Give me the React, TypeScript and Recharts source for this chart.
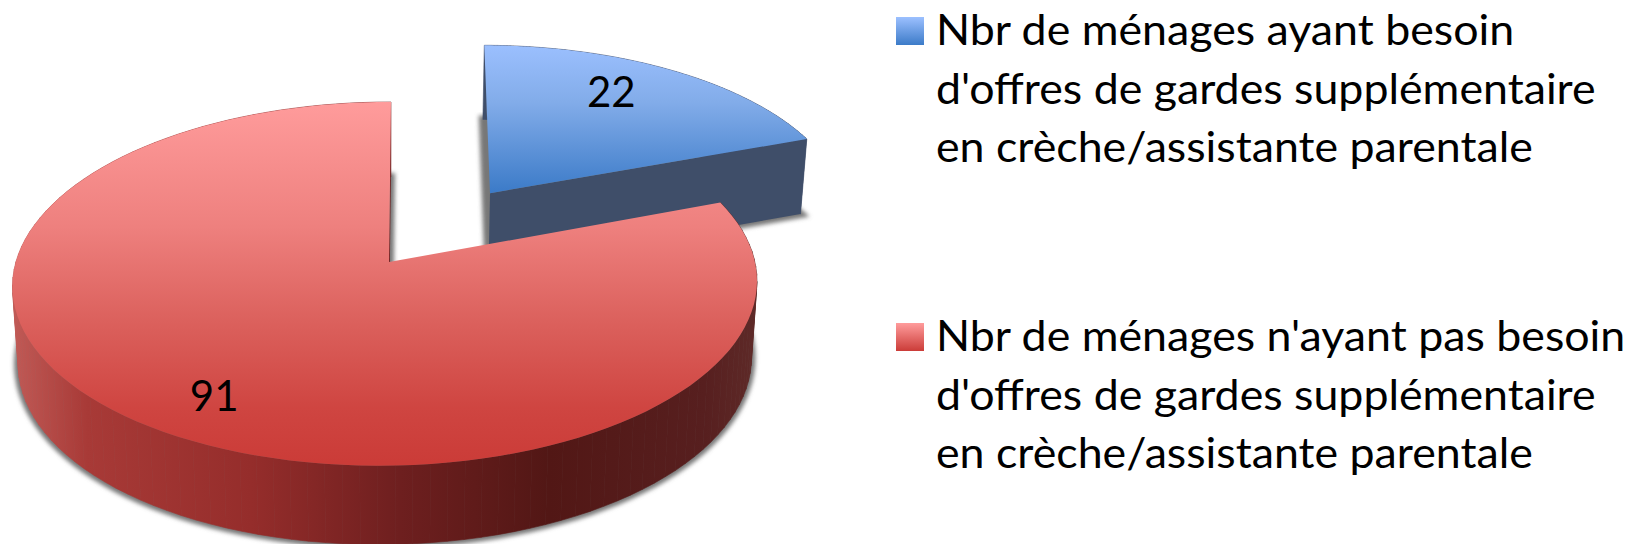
import { PieChart, Pie, Legend } from "recharts";

const CATEGORIES = [
  "Nbr de ménages ayant besoin\nd'offres de gardes supplémentaire\nen crèche/assistante parentale",
  "Nbr de ménages n'ayant pas besoin\nd'offres de gardes supplémentaire\nen crèche/assistante parentale",
];
const VALUES = [22, 91];
const EXPLODE = [0.49, 0];

const data = CATEGORIES.map((name, i) => ({ name, value: VALUES[i], slice: i }));

const FONT = "Lato, Carlito, sans-serif";
const RAD = Math.PI / 180;

// perspective of the 3D pie, relative to the radius
const P = 0.12;
const Q = 0.0107;
const SQUASH = 0.485;
const SKEW = [0.015, 0.006];
const ROLL = 0.004;
const DEPTH = 0.208;
const FAR = 0.985;
const ARC_SCALE = [1.015, 1];

function project(cx: number, cy: number, r: number, u: number, v: number, level: number, i: number) {
  const d = 1 + P * v + Q * u;
  const sc = level ? FAR : 1;
  const x = ((r * u + SKEW[i] * r * v) * sc) / d;
  const y = ((SQUASH * r * v + ROLL * r * u) * sc) / d - (level * DEPTH * r) / Math.sqrt(d);
  return [cx + x, cy - y];
}

function toPath(points: number[][]) {
  return "M" + points.map((p) => `${p[0].toFixed(1)},${p[1].toFixed(1)}`).join("L") + "Z";
}

function Slice3D(props: any) {
  const { cx, cy, outerRadius: r, startAngle, endAngle } = props;
  const i = props.slice ?? props.payload?.slice ?? 0;
  const mid = ((startAngle + endAngle) / 2) * RAD;
  const ox = EXPLODE[i] * Math.cos(mid);
  const oy = EXPLODE[i] * Math.sin(mid);

  const at = (deg: number | null, level: number) => {
    if (deg === null) return project(cx, cy, r, ox, oy, level, i);
    const k = ARC_SCALE[i];
    return project(cx, cy, r, ox + k * Math.cos(deg * RAD), oy + k * Math.sin(deg * RAD), level, i);
  };

  const angles: number[] = [];
  for (let k = 0; k <= 120; k++) angles.push(startAngle + ((endAngle - startAngle) * k) / 120);

  const topArc = angles.map((a) => at(a, 0));
  const bottomArc = angles.map((a) => at(a, 1));
  const wallFill = i === 0 ? "#3f4e69" : "url(#redWall)";

  return (
    <g>
      <path
        d={toPath([at(null, 1), ...bottomArc])}
        fill="#777"
        stroke="#777"
        strokeWidth={8}
        filter="url(#softShadow)"
      />
      {angles.slice(1).map((_, k) => (
        <path
          key={k}
          d={toPath([topArc[k], topArc[k + 1], bottomArc[k + 1], bottomArc[k]])}
          fill={wallFill}
          stroke={wallFill}
          strokeWidth={0.6}
        />
      ))}
      <path
        d={toPath([at(null, 0), at(endAngle, 0), at(endAngle, 1), at(null, 1)])}
        fill={wallFill}
      />
      <path d={toPath([at(null, 0), ...topArc])} fill={i === 0 ? "url(#blueTop)" : "url(#redTop)"} />
    </g>
  );
}

const LABEL_NUDGE = [
  [-24, -3],
  [12, 4],
];

function renderLabel(props: any) {
  const { cx, cy, outerRadius: r, midAngle, value } = props;
  const i = VALUES.indexOf(value);
  const u = EXPLODE[i] * Math.cos(midAngle * RAD) + 0.8 * Math.cos(midAngle * RAD);
  const v = EXPLODE[i] * Math.sin(midAngle * RAD) + 0.8 * Math.sin(midAngle * RAD);
  const [x, y] = project(cx, cy, r, u, v, 0, i);
  return (
    <text
      x={x + LABEL_NUDGE[i][0]}
      y={y + LABEL_NUDGE[i][1]}
      textAnchor="middle"
      dominantBaseline="central"
      fontFamily={FONT}
      fontSize={42}
      fill="#000"
    >
      {value}
    </text>
  );
}

const SWATCHES = ["url(#blueSwatch)", "url(#redSwatch)"];

function LegendBox({ payload }: any) {
  return (
    <svg width={746} height={544} style={{ display: "block" }}>
      <defs>
        <linearGradient id="blueSwatch" x1="0" y1="0" x2="0" y2="1">
          <stop offset="0" stopColor="#9cc0ff" />
          <stop offset="1" stopColor="#3c7bc8" />
        </linearGradient>
        <linearGradient id="redSwatch" x1="0" y1="0" x2="0" y2="1">
          <stop offset="0" stopColor="#ff9c9c" />
          <stop offset="1" stopColor="#cb3c38" />
        </linearGradient>
      </defs>
      {(payload || []).map((entry: any, i: number) => (
        <g key={i} transform={`translate(0,${i * 306})`}>
          <rect x={13} y={17} width={28} height={28} fill={SWATCHES[i]} />
          {String(entry.value)
            .split("\n")
            .map((line, k) => (
              <text
                key={k}
                transform={`translate(53,${45 + k * 58.5}) scale(1.04,1)`}
                fontFamily={FONT}
                fontSize={43}
                fill="#000"
              >
                {line}
              </text>
            ))}
        </g>
      ))}
    </svg>
  );
}

export default function App() {
  return (
    <div style={{ position: "absolute", left: 0, top: 0, width: 1629, height: 544, background: "#fff", overflow: "hidden" }}>
      <PieChart width={1629} height={544} margin={{ top: 0, right: 0, bottom: 0, left: 0 }}>
        <defs>
          <filter id="softShadow" x="-5%" y="-5%" width="110%" height="110%">
            <feGaussianBlur stdDeviation="2" />
          </filter>
          <linearGradient id="blueTop" gradientUnits="userSpaceOnUse" x1="0" y1="43" x2="0" y2="192">
            <stop offset="0" stopColor="#9cc0ff" />
            <stop offset="0.4" stopColor="#82ace9" />
            <stop offset="1" stopColor="#3c7bc8" />
          </linearGradient>
          <linearGradient id="redTop" gradientUnits="userSpaceOnUse" x1="0" y1="100" x2="0" y2="462">
            <stop offset="0" stopColor="#ff9c9c" />
            <stop offset="0.35" stopColor="#ee807e" />
            <stop offset="0.6" stopColor="#dc625e" />
            <stop offset="0.85" stopColor="#cf4541" />
            <stop offset="1" stopColor="#cb3c38" />
          </linearGradient>
          <linearGradient id="redWall" gradientUnits="userSpaceOnUse" x1="13" y1="0" x2="757" y2="0">
            <stop offset="0" stopColor="#c05a56" />
            <stop offset="0.1" stopColor="#a83a37" />
            <stop offset="0.32" stopColor="#952d2b" />
            <stop offset="0.52" stopColor="#6e1f1f" />
            <stop offset="0.72" stopColor="#521715" />
            <stop offset="0.93" stopColor="#571f1f" />
            <stop offset="1" stopColor="#5e2a28" />
          </linearGradient>
        </defs>
        <Pie
          data={data}
          dataKey="value"
          nameKey="name"
          cx={389}
          cy={262}
          innerRadius={0}
          outerRadius={369.5}
          startAngle={90}
          endAngle={-270}
          paddingAngle={0}
          stroke="none"
          shape={Slice3D}
          label={renderLabel}
          labelLine={false}
          isAnimationActive={false}
        />
        <Legend
          layout="vertical"
          content={LegendBox}
          wrapperStyle={{ left: 883, top: 0, width: 746, height: 544 }}
        />
      </PieChart>
    </div>
  );
}
